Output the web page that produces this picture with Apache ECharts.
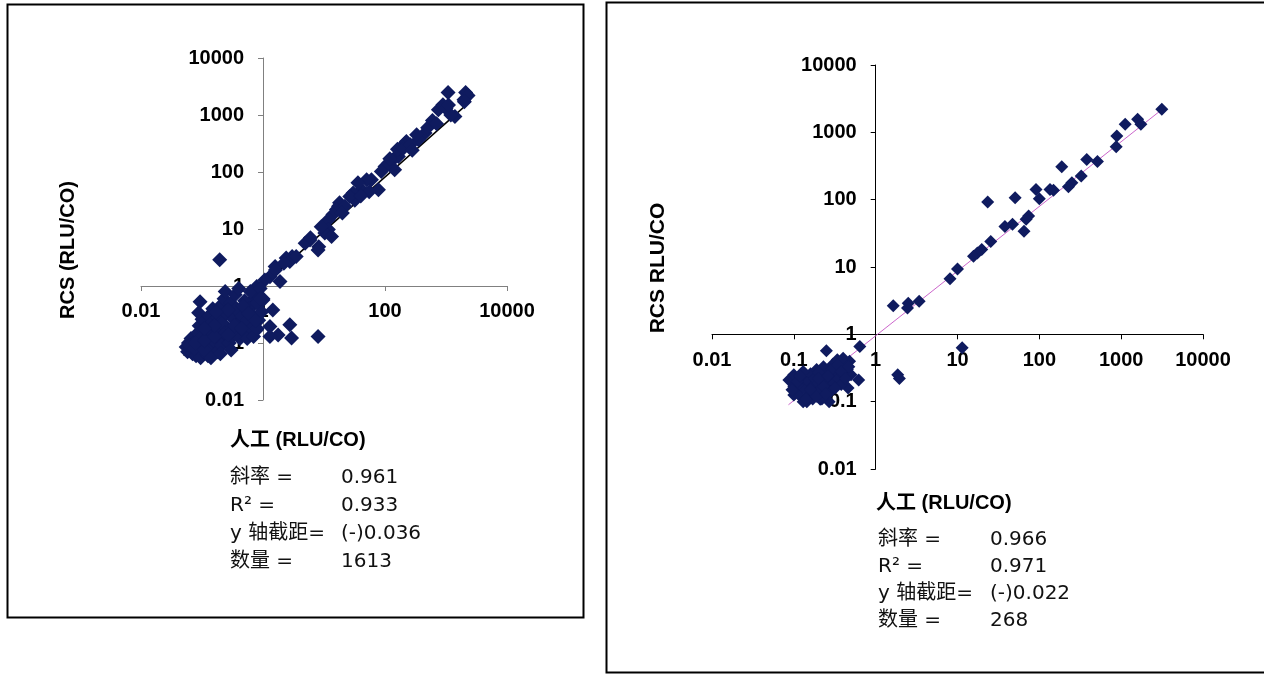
<!DOCTYPE html>
<html>
<head>
<meta charset="utf-8">
<title>RCS vs 人工 (RLU/CO)</title>
<script src="https://cdn.jsdelivr.net/npm/echarts@6/dist/echarts.min.js"></script>
<style>
    html, body { margin: 0; padding: 0; background: #fff; }
    #chart { width: 1264px; height: 675px; }
</style>
</head>
<body>
<div id="chart"></div>
<script>
// 两个对数坐标散点图：人工 vs RCS (RLU/CO)
var tickLabels = ['0.01', '0.1', '1', '10', '100', '1000', '10000'];

// 左图 (n = 1613，只取了能看出来的点)
var leftManual = [
    1080, 2100, 1970, 1400, 750, 890, 454, 353, 214, 224, 166, 145, 114, 144, 100, 87, 60, 78, 50, 41.5, 36, 30, 32, 26.5, 17.3, 18, 16, 14, 11.8, 11.8, 10.3, 13.3, 8.2, 5.9, 4.9, 8, 3.0, 2.4, 2.75, 1.58, 1.9, 1.3, 1.07,
    120, 160, 200, 260, 280, 330, 500, 600, 700, 1000, 1200, 1100, 2300, 2000, 55, 40, 22, 20, 9, 6, 3.5, 2.2, 1.6,
    0.79, 0.79, 1.0, 1.45, 0.61, 0.195, 1.3, 2.75, 2.94, 1.77, 1.3, 8, 0.79, 0.54, 0.093,
    0.055, 0.058, 0.06, 0.065, 0.066, 0.07, 0.07,
    0.08, 0.08, 0.085, 0.09, 0.09, 0.095, 0.1, 0.1, 0.1, 0.088,
    0.12, 0.12, 0.12, 0.13, 0.13, 0.14, 0.14, 0.15, 0.15, 0.125,
    0.17, 0.18, 0.18, 0.19, 0.2, 0.2, 0.21, 0.22, 0.23, 0.24, 0.25, 0.24,
    0.28, 0.3, 0.3, 0.32, 0.33, 0.35, 0.36, 0.38, 0.4, 0.4, 0.42,
    0.45, 0.5, 0.5, 0.55, 0.55, 0.6, 0.62, 0.65, 0.7, 0.7,
    0.8, 0.85, 0.9, 0.95, 1.0, 0.8,
    0.062, 0.075, 0.078, 0.11, 0.11, 0.16, 0.16, 0.27, 0.27, 0.34, 0.45, 0.47, 0.58, 0.75, 0.9, 0.14, 0.2, 0.3, 0.11, 0.17
];
var leftRcs = [
    2490, 2470, 1850, 944, 1236, 1515, 482, 367, 321, 344, 187, 178, 143, 110, 125, 102, 73, 49, 73, 49, 65, 43, 32, 37, 25, 29, 22, 18, 14.5, 9.8, 8.5, 7.4, 4.9, 6.4, 5.6, 4.3, 3.3, 3.1, 2.7, 2.2, 1.2, 1.46, 1.28,
    170, 250, 260, 300, 240, 450, 600, 800, 700, 1300, 1000, 1500, 2200, 1700, 45, 38, 25, 19, 11, 7, 3.3, 2.5, 1.9,
    0.98, 0.62, 0.57, 0.38, 0.5, 2.9, 0.195, 0.21, 0.123, 0.138, 0.13, 0.13, 0.17, 0.195, 0.53,
    0.085, 0.07, 0.1, 0.08, 0.12, 0.065, 0.095,
    0.06, 0.11, 0.15, 0.075, 0.2, 0.055, 0.1, 0.13, 0.26, 0.34,
    0.065, 0.09, 0.17, 0.12, 0.3, 0.08, 0.22, 0.14, 0.4, 0.06,
    0.1, 0.07, 0.28, 0.17, 0.12, 0.45, 0.09, 0.22, 0.6, 0.15, 0.33, 0.8,
    0.1, 0.18, 0.5, 0.13, 0.26, 0.7, 0.4, 0.16, 0.22, 0.9, 0.12,
    0.3, 0.16, 0.55, 0.12, 0.25, 0.4, 0.8, 0.18, 0.3, 0.13,
    0.5, 0.25, 0.9, 0.35, 0.6, 0.18,
    0.09, 0.08, 0.1, 0.075, 0.11, 0.13, 0.2, 0.14, 0.38, 0.2, 0.18, 0.45, 0.33, 0.25, 0.6, 0.055, 0.065, 0.075, 0.18, 0.35
];

// 右图 (n = 268)
var rightManual = [
    3140, 1590, 1740, 1120, 885, 870, 513, 380, 325, 250, 227, 188, 149, 135, 91, 100, 50.6, 23.4, 74, 69, 65, 47, 38, 25.5, 19.8, 17.5, 15.7, 10, 8.1, 3.4, 2.5, 2.45, 1.64,
    1.86, 1.95, 11.4, 0.64,
    0.087, 0.1, 0.144, 0.21, 0.25, 0.48, 0.46, 0.62,
    0.1, 0.11, 0.12, 0.12, 0.13, 0.14, 0.15, 0.15, 0.16, 0.17, 0.18, 0.18, 0.19, 0.2, 0.21, 0.22, 0.23, 0.24, 0.26, 0.27, 0.28,
    0.3, 0.31, 0.33, 0.35, 0.36, 0.4, 0.42, 0.38, 0.45, 0.5, 0.13, 0.17, 0.28,
    0.1, 0.13, 0.27, 0.22, 0.34, 0.4,
    0.095, 0.11, 0.12, 0.14, 0.16, 0.19, 0.2, 0.23, 0.25, 0.29, 0.32, 0.35, 0.38, 0.43, 0.47, 0.2, 0.26
];
var rightRcs = [
    2200, 1560, 1315, 1315, 880, 612, 370, 396, 224, 178, 155, 309, 138, 141, 141, 103, 107, 92, 57, 51, 34, 43, 40, 24, 18.2, 16.2, 14.4, 9.3, 6.7, 3.1, 2.9, 2.46, 2.66,
    0.25, 0.22, 0.63, 0.66,
    0.21, 0.126, 0.1, 0.109, 0.57, 0.4, 0.16, 0.21,
    0.17, 0.14, 0.12, 0.18, 0.22, 0.15, 0.12, 0.2, 0.26, 0.17, 0.13, 0.22, 0.3, 0.19, 0.15, 0.25, 0.33, 0.21, 0.17, 0.28, 0.23,
    0.36, 0.19, 0.27, 0.22, 0.32, 0.26, 0.35, 0.18, 0.3, 0.25, 0.1, 0.11, 0.14,
    0.25, 0.28, 0.1, 0.11, 0.42, 0.44,
    0.15, 0.2, 0.24, 0.11, 0.15, 0.12, 0.27, 0.17, 0.13, 0.3, 0.16, 0.35, 0.28, 0.22, 0.33, 0.22, 0.24
];

// 趋势线端点
var leftTrendX = [0.05, 2000];
var leftTrendY = [0.06, 1400];
var rightTrendX = [0.086, 3100];
var rightTrendY = [0.09, 2150];

var statNames = ['斜率 =', 'R² =', 'y 轴截距=', '数量 ='];
var leftStats = ['0.961', '0.933', '(-)0.036', '1613'];
var rightStats = ['0.966', '0.971', '(-)0.022', '268'];

var tickFont = '"Liberation Sans", Arial, sans-serif';
var titleFont = '"Liberation Sans", Arial, "Noto Sans CJK SC", sans-serif';
var statFont = '"DejaVu Sans", "Noto Sans CJK SC", sans-serif';
var markColor = '#0f1b5f';

function pairs(xs, ys) {
    var out = [];
    for (var i = 0; i < xs.length; i++) {
        out.push([xs[i], ys[i]]);
    }
    return out;
}

function fmtTick(v) {
    return tickLabels[Math.round(Math.log10(v)) + 2];
}

function logAxis(gridIndex, interval, offset, margin, lineColor) {
    return {
        gridIndex: gridIndex,
        type: 'log',
        logBase: 10,
        min: 0.01,
        max: 10000,
        interval: interval,
        offset: offset,
        axisLine: {show: true, lineStyle: {color: lineColor, width: 1}},
        axisTick: {show: true, length: 5, lineStyle: {color: lineColor}},
        minorTick: {show: false},
        splitLine: {show: false},
        axisLabel: {
            formatter: fmtTick,
            margin: margin,
            color: '#000',
            fontFamily: tickFont,
            fontWeight: 'bold',
            fontSize: 20
        }
    };
}

// 统计文字
function statText(x0, xv, y0, step, values) {
    var els = [];
    for (var i = 0; i < statNames.length; i++) {
        els.push({
            type: 'text', x: x0, y: y0 + i * step,
            style: {text: statNames[i], font: '20px ' + statFont, fill: '#111', textVerticalAlign: 'middle'}
        });
        els.push({
            type: 'text', x: xv, y: y0 + i * step,
            style: {text: values[i], font: '20px ' + statFont, fill: '#111', textVerticalAlign: 'middle'}
        });
    }
    return els;
}

var graphics = [
    // 外框
    {type: 'rect', shape: {x: 7.5, y: 4.5, width: 576, height: 613}, style: {fill: 'none', stroke: '#000', lineWidth: 2}, z: -10},
    {type: 'rect', shape: {x: 606.5, y: 2.5, width: 700, height: 670}, style: {fill: 'none', stroke: '#000', lineWidth: 2}, z: -10},
    // 轴标题
    {type: 'text', x: 68, y: 250, rotation: Math.PI / 2,
        style: {text: 'RCS (RLU/CO)', font: 'bold 20px ' + titleFont, fill: '#000', textAlign: 'center', textVerticalAlign: 'middle'}},
    {type: 'text', x: 658, y: 268, rotation: Math.PI / 2,
        style: {text: 'RCS RLU/CO', font: 'bold 21px ' + titleFont, fill: '#000', textAlign: 'center', textVerticalAlign: 'middle'}},
    {type: 'text', x: 230, y: 440,
        style: {text: '人工 (RLU/CO)', font: 'bold 20px ' + titleFont, fill: '#000', textVerticalAlign: 'middle'}},
    {type: 'text', x: 876, y: 503,
        style: {text: '人工 (RLU/CO)', font: 'bold 20px ' + titleFont, fill: '#000', textVerticalAlign: 'middle'}}
].concat(statText(230, 341, 478, 28, leftStats))
 .concat(statText(878, 990, 540, 27, rightStats));

var myChart = echarts.init(document.getElementById('chart'));
var option = {
    animation: false,
    backgroundColor: '#fff',
    grid: [
        {left: 141, top: 58, width: 366, height: 342},
        {left: 712, top: 65, width: 491, height: 404}
    ],
    // 坐标轴交叉在 1 处，用 offset 挪进来
    xAxis: [
        logAxis(0, 2, -114, 15, '#808080'),
        logAxis(1, 1, -134.7, 16, '#000')
    ],
    yAxis: [
        logAxis(0, 1, -122, 19, '#808080'),
        logAxis(1, 1, -163.7, 19, '#000')
    ],
    series: [
        {
            type: 'line', xAxisIndex: 0, yAxisIndex: 0,
            data: pairs(leftTrendX, leftTrendY),
            symbol: 'none', lineStyle: {color: '#000', width: 1.5}, z: 1
        },
        {
            type: 'scatter', xAxisIndex: 0, yAxisIndex: 0,
            data: pairs(leftManual, leftRcs),
            symbol: 'diamond', symbolSize: 15,
            itemStyle: {color: markColor, opacity: 1}, z: 2
        },
        {
            type: 'line', xAxisIndex: 1, yAxisIndex: 1,
            data: pairs(rightTrendX, rightTrendY),
            symbol: 'none', lineStyle: {color: '#cc66cc', width: 1}, z: 1
        },
        {
            type: 'scatter', xAxisIndex: 1, yAxisIndex: 1,
            data: pairs(rightManual, rightRcs),
            symbol: 'diamond', symbolSize: 13,
            itemStyle: {color: markColor, opacity: 1}, z: 2
        }
    ],
    graphic: graphics
};
myChart.setOption(option);
</script>
</body>
</html>
